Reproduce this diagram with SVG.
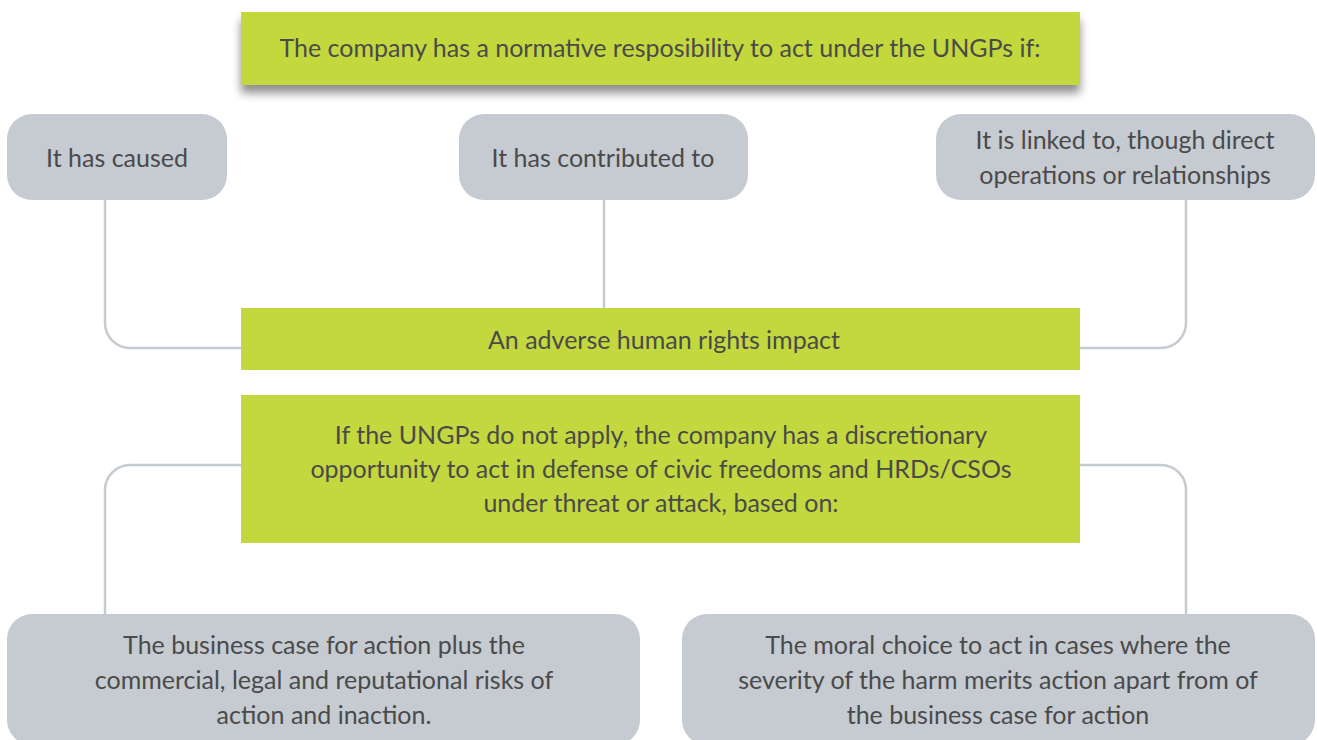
<svg xmlns="http://www.w3.org/2000/svg" width="1317" height="740" viewBox="0 0 1317 740">
<defs>
<filter id="sh" x="-5%" y="-30%" width="110%" height="180%">
<feGaussianBlur in="SourceAlpha" stdDeviation="5"/>
<feOffset dx="0" dy="8" result="b"/>
<feComponentTransfer><feFuncA type="linear" slope="0.45"/></feComponentTransfer>
<feMerge><feMergeNode/><feMergeNode in="SourceGraphic"/></feMerge>
</filter>
<style>
.g{fill:#c2d83e}
.n{fill:#c5cbd1}
.t{font-family:"Lato","Open Sans",sans-serif;font-size:25px;fill:#4a4a4a;text-anchor:middle}
.c{fill:none;stroke:#c5cbd1;stroke-width:2.5}
</style>
</defs>
<rect width="1317" height="740" fill="#fff"/>
<g id="connectors">
<path class="c" d="M105 200 V323 A25 25 0 0 0 130 348 H241"/>
<path class="c" d="M604 200 V308"/>
<path class="c" d="M1186 200 V323 A25 25 0 0 1 1161 348 H1080"/>
<path class="c" d="M241 465 H130 A25 25 0 0 0 105 490 V614"/>
<path class="c" d="M1080 465 H1161 A25 25 0 0 1 1186 490 V614"/>
</g>
<g id="top">
<rect class="g" x="241" y="12" width="839" height="73" filter="url(#sh)"/>
<text class="t" x="660" y="57">The company has a normative resposibility to act under the UNGPs if:</text>
</g>
<g id="caused">
<rect class="n" x="7" y="114" width="220" height="86" rx="25"/>
<text class="t" x="117" y="167">It has caused</text>
</g>
<g id="contributed">
<rect class="n" x="459" y="114" width="289" height="86" rx="25"/>
<text class="t" x="603" y="167">It has contributed to</text>
</g>
<g id="linked">
<rect class="n" x="936" y="114" width="379" height="86" rx="25"/>
<text class="t" x="1125" y="149">It is linked to, though direct</text>
<text class="t" x="1125" y="184">operations or relationships</text>
</g>
<g id="impact">
<rect class="g" x="241" y="308" width="839" height="62"/>
<text class="t" x="664" y="349">An adverse human rights impact</text>
</g>
<g id="discretionary">
<rect class="g" x="241" y="395" width="839" height="148"/>
<text class="t" x="661" y="444">If the UNGPs do not apply, the company has a discretionary</text>
<text class="t" x="661" y="478">opportunity to act in defense of civic freedoms and HRDs/CSOs</text>
<text class="t" x="661" y="512">under threat or attack, based on:</text>
</g>
<g id="business">
<rect class="n" x="7" y="614" width="633" height="131" rx="25"/>
<text class="t" x="324" y="654">The business case for action plus the</text>
<text class="t" x="324" y="689">commercial, legal and reputational risks of</text>
<text class="t" x="324" y="724">action and inaction.</text>
</g>
<g id="moral">
<rect class="n" x="682" y="614" width="633" height="131" rx="25"/>
<text class="t" x="998" y="654">The moral choice to act in cases where the</text>
<text class="t" x="998" y="689">severity of the harm merits action apart from of</text>
<text class="t" x="998" y="724">the business case for action</text>
</g>
</svg>
